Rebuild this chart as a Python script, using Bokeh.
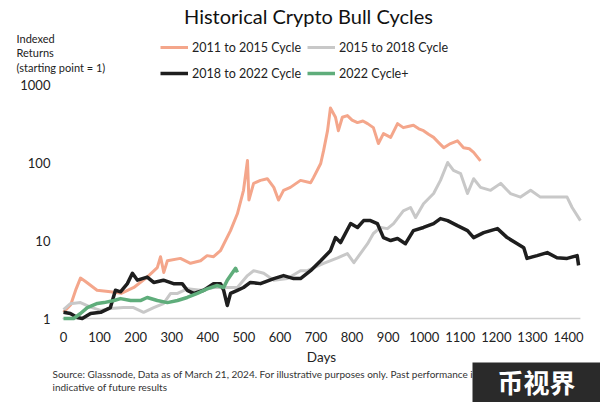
from bokeh.plotting import figure
from bokeh.models import Range1d, Legend, LegendItem, Label, BoxAnnotation
from bokeh.core.properties import value
from bokeh.embed import file_html
from bokeh.resources import INLINE

FONT = "Lato"

# ---- data (days since cycle start, indexed return; start = 1) ----
c1_days = [0, 20, 35, 47, 60, 93, 130, 160, 195, 232, 260, 269, 278, 288, 324, 352, 380,
           398, 416, 435, 463, 482, 499, 510, 514, 527, 546, 565, 583, 596, 610, 629, 657,
           685, 693, 713, 721, 732, 740, 754, 762, 773, 787, 800, 815, 830, 843, 859, 873, 887, 907,
           926, 942, 955, 970, 985, 998, 1012, 1026, 1040, 1054, 1073, 1092, 1109, 1125, 1137, 1156]
c1_vals = [1.2, 1.5, 2.4, 3.3, 3.0, 2.3, 2.2, 2.1, 2.5, 3.4, 4.5, 6.2, 3.9, 5.5, 5.9, 5.1, 5.5,
           6.4, 6.2, 7.4, 13.4, 22, 44, 106, 33, 54, 59, 62, 48, 33, 44, 48, 59,
           55, 64, 97, 142, 256, 500, 380, 256, 380, 400, 350, 325, 340, 315, 280, 175, 235, 210,
           315, 280, 290, 300, 270, 256, 230, 210, 180, 155, 175, 190, 155, 150, 135, 105]

c2_days = [0, 19, 47, 75, 103, 130, 166, 194, 222, 250, 277, 297, 316, 343, 380, 416, 453,
           482, 510, 527, 555, 583, 621, 657, 676, 721, 760, 787, 805, 823, 843, 859, 879,
           898, 915, 942, 962, 976, 998, 1026, 1045, 1065, 1081, 1101, 1120, 1137, 1156,
           1184, 1212, 1239, 1267, 1295, 1322, 1359, 1396, 1410, 1433]
c2_vals = [1.3, 1.55, 1.6, 1.4, 1.27, 1.34, 1.38, 1.38, 1.2, 1.38, 1.55, 2.1, 2.1, 2.4, 2.3, 2.5, 2.5,
           2.5, 3.55, 4.1, 3.8, 3.1, 3.25, 4.1, 4.1, 5.1, 6.0, 6.8, 5.2, 6.8, 9.1, 12.3, 14.7,
           14.2, 16.5, 24, 26.5, 19.7, 29.6, 40, 59, 100, 79, 72, 40, 62, 48,
           44, 54, 40, 36, 44, 36, 36, 36, 26.5, 18]

c3_days = [0, 19, 38, 52, 75, 103, 130, 144, 158, 177, 191, 205, 232, 250, 277, 305, 329,
           343, 361, 389, 416, 435, 444, 454, 463, 482, 499, 518, 546, 583, 610, 638, 657,
           685, 713, 740, 754, 768, 796, 815, 832, 851, 870, 887, 907, 926, 948, 970, 998,
           1026, 1045, 1065, 1092, 1120, 1137, 1165, 1203, 1230, 1258, 1276, 1285, 1313,
           1341, 1368, 1396, 1424, 1428]
c3_vals = [1.2, 1.16, 1.03, 1.0, 1.16, 1.2, 1.38, 2.3, 2.2, 2.8, 3.8, 3.1, 3.4, 2.9, 3.1, 2.8, 2.8,
           2.3, 2.1, 2.3, 2.8, 2.8, 2.3, 1.47, 2.1, 2.3, 2.5, 2.9, 2.8, 3.25, 3.55, 3.25, 3.25,
           4.1, 5.5, 7.4, 10.9, 9.4, 16.5, 14.7, 18, 18, 16.5, 10.9, 10, 10.6, 9.1, 13.4, 14.7,
           16.5, 19.1, 18, 15.5, 13.4, 10.9, 12.6, 14.2, 10.9, 9.1, 8.1, 5.9, 6.4,
           7.0, 6.0, 5.9, 6.4, 4.8]

c4_days = [0, 28, 47, 66, 94, 112, 140, 158, 186, 213, 232, 260, 288, 316, 343, 371, 398,
           426, 444, 454, 463, 477, 482]
c4_vals = [1.0, 1.0, 1.16, 1.38, 1.56, 1.6, 1.7, 1.8, 1.7, 1.7, 1.86, 1.7, 1.6, 1.7, 1.86, 2.1, 2.4,
           2.65, 2.5, 3.1, 3.55, 4.4, 3.9]

series_names = ["2011 to 2015 Cycle", "2015 to 2018 Cycle", "2018 to 2022 Cycle", "2022 Cycle+"]
x_ticks = list(range(0, 1401, 100))
y_ticks = [1, 10, 100, 1000]
x_domain = (-3, 1433)          # extent of the plotted day axis (baseline)

W, H = 600, 402
# the whole canvas is the plotting frame so that header/footer texts are not clipped
p = figure(width=W, height=H, output_backend="svg", toolbar_location=None,
           y_axis_type="log", x_axis_location=None, y_axis_location=None,
           x_range=Range1d(-174.7, 1488.7), y_range=Range1d(0.0838, 11940),
           min_border=0)
p.outline_line_color = None
p.grid.visible = False
p.background_fill_color = "white"
p.border_fill_color = "white"

# baseline (x axis line)
p.segment(x0=[x_domain[0]], x1=[x_domain[1]], y0=[y_ticks[0]], y1=[y_ticks[0]],
          line_color="#d0d0d0", line_width=1.5)

r1 = p.line(c1_days, c1_vals, line_color="#F4A68B", line_width=3, line_join="round")
r2 = p.line(c2_days, c2_vals, line_color="#C8C8C8", line_width=3, line_join="round")
r3 = p.line(c3_days, c3_vals, line_color="#1E1E1E", line_width=3.5, line_join="round")
r4 = p.line(c4_days, c4_vals, line_color="#5FAD7B", line_width=3.5, line_join="round")

# tick labels
p.text(x=x_ticks, y=[y_ticks[0]] * len(x_ticks), text=[str(t) for t in x_ticks],
       y_offset=18, text_align="center", text_baseline="middle",
       text_font=value(FONT), text_font_size="13px", text_color="#222222")
p.text(x=[x_domain[0]] * len(y_ticks), y=y_ticks, text=[str(t) for t in y_ticks],
       x_offset=-12, text_align="right", text_baseline="middle",
       text_font=value(FONT), text_font_size="13px", text_color="#222222")

# legend
legend = Legend(items=[LegendItem(label=series_names[0], renderers=[r1]),
                       LegendItem(label=series_names[1], renderers=[r2]),
                       LegendItem(label=series_names[2], renderers=[r3]),
                       LegendItem(label=series_names[3], renderers=[r4])],
                location=(160, 319), orientation="horizontal", ncols=2,
                background_fill_alpha=0, border_line_alpha=0, padding=0, margin=0,
                spacing=6, label_standoff=4, glyph_width=28, glyph_height=20, label_height=20,
                label_text_font=FONT, label_text_font_size="12.5px", label_text_color="#222222")
p.add_layout(legend, "center")

def add_label(x, y, text, size, align="left", color="#222222", style="normal", font=FONT, **kw):
    # x, y: pixels from the top-left of the canvas
    lab = Label(x=x, y=H - y, x_units="screen", y_units="screen", text=text,
                text_font=font, text_font_size=size, text_align=align,
                text_baseline="middle", text_color=color, text_font_style=style, **kw)
    p.add_layout(lab)
    return lab

add_label(308, 15, "Historical Crypto Bull Cycles", "20px", align="center", color="#111111")
add_label(16, 38, "Indexed", "11px")
add_label(16, 52, "Returns", "11px")
add_label(16, 67, "(starting point = 1)", "11px")
add_label(321, 356, "Days", "13.5px", align="center")
add_label(52, 373, "Source: Glassnode, Data as of March 21, 2024. For illustrative purposes only. Past performance is not",
          "10px", color="#333333")
add_label(52, 386, "indicative of future results", "10px", color="#333333")

# watermark box in the lower-right corner
p.add_layout(BoxAnnotation(left=472, right=W, bottom=0, top=H - 362,
                           left_units="screen", right_units="screen",
                           top_units="screen", bottom_units="screen",
                           fill_color="#2a2a2a", fill_alpha=1, line_color=None))
add_label(536, 381, "币视界", "26px", align="center", color="white", style="bold",
          font="Noto Sans CJK SC")

open("out.html", "w").write(file_html(p, INLINE))
